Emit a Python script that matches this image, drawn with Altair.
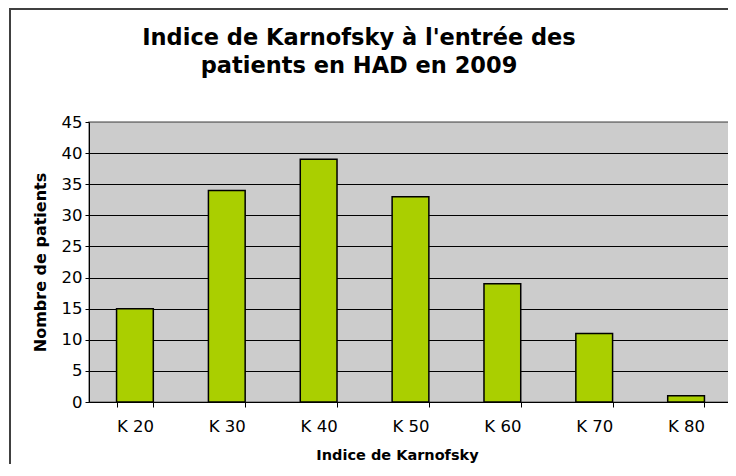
import altair as alt
import pandas as pd

categories = ["K 20", "K 30", "K 40", "K 50", "K 60", "K 70", "K 80"]
patients = [15, 34, 39, 33, 19, 11, 1]
y_ticks = [0, 5, 10, 15, 20, 25, 30, 35, 40, 45]
title_lines = ["Indice de Karnofsky à l'entrée des", "patients en HAD en 2009"]
x_title = "Indice de Karnofsky"
y_title = "Nombre de patients"

df = pd.DataFrame({"cat": categories, "n": patients})

FONT = "DejaVu Sans"
W, H = 643, 280

border = alt.Chart(alt.Data(values=[{}])).mark_rect(
    fillOpacity=0, stroke="#404040", strokeWidth=2
).encode(
    x=alt.value(-79), x2=alt.value(W + 80),
    y=alt.value(-113), y2=alt.value(H + 120),
)

title = alt.Chart(alt.Data(values=[{}])).mark_text(
    text=title_lines, font=FONT, fontSize=22.5, fontWeight="bold",
    lineHeight=28, align="center", baseline="alphabetic", color="black",
).encode(x=alt.value(270), y=alt.value(-77.5))

bars = alt.Chart(df).mark_bar(
    color="#AACF00", stroke="black", strokeWidth=1.5
).encode(
    x=alt.X("cat:N", sort=categories,
            scale=alt.Scale(paddingInner=0.6, paddingOuter=0.3),
            axis=alt.Axis(
                title=x_title, labelAngle=0, tickBand="extent",
                tickSize=5, tickColor="black", domainColor="black",
                labelFont=FONT, labelFontSize=16.5, labelColor="black",
                labelBaseline="alphabetic", labelPadding=24,
                titleFont=FONT, titleFontSize=14.5, titleFontWeight="bold",
                titleColor="black", titleX=308, titleY=57,
                titleBaseline="alphabetic", titleAlign="center",
            )),
    y=alt.Y("n:Q", scale=alt.Scale(domain=[0, 45], nice=False),
            axis=alt.Axis(
                title=y_title, values=y_ticks, tickSize=4, tickColor="black",
                domainColor="black", grid=True,
                gridColor=alt.condition("datum.value == 45",
                                        alt.value("#808080"), alt.value("black")),
                gridOpacity=1, gridWidth=1,
                labelFont=FONT, labelFontSize=16.5, labelColor="black",
                labelPadding=3,
                titleFont=FONT, titleFontSize=16, titleFontWeight="bold",
                titleColor="black", titleAngle=-90, titleX=-49, titleY=140,
                titleBaseline="middle", titleAlign="center",
            )),
)

chart = alt.layer(border, title, bars).properties(
    width=W, height=H,
    autosize=alt.AutoSizeParams(type="none"),
    padding={"left": 81, "top": 114, "right": -4, "bottom": 62},
    background="white",
).configure_view(
    fill="#CCCCCC", stroke="#808080", strokeWidth=1.5
)

chart.save("out.html", embed_options={"renderer": "svg", "actions": False})
